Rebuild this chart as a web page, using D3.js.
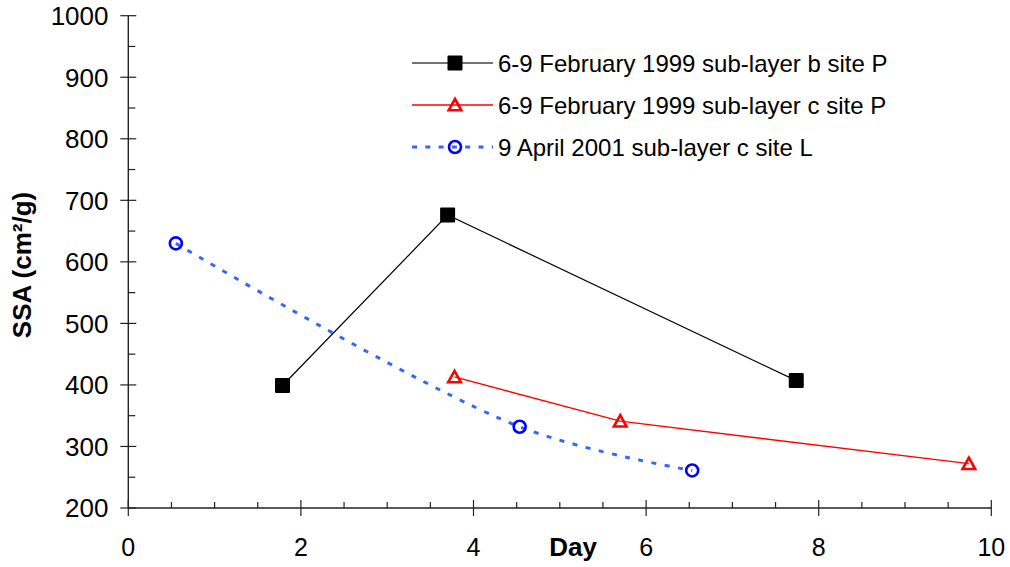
<!DOCTYPE html>
<html><head><meta charset="utf-8">
<script src="https://cdn.jsdelivr.net/npm/d3@7"></script>
<style>body{margin:0;background:#fff}svg{display:block}text{font-family:Arial,"Liberation Sans",sans-serif}</style>
</head><body>
<svg id="c" width="1010" height="567"></svg>
<script>
const seriesNames = ["6-9 February 1999 sub-layer b site P","6-9 February 1999 sub-layer c site P","9 April 2001 sub-layer c site L"];
const bDays = [1.787, 3.70, 7.74];
const bSSA  = [399, 676, 407];
const cDays = [3.78, 5.70, 9.74];
const cSSA  = [413, 341, 272];
const lDays = [0.551, 4.535, 6.534];
const lSSA  = [630, 332, 261];
const xTicks = [0,2,4,6,8,10];
const yTicks = [200,300,400,500,600,700,800,900,1000];
const xTitle = "Day";
const yTitle = "SSA (cm²/g)";

const svg = d3.select("#c");
const x = d3.scaleLinear().domain([0,10]).range([128.3, 991.3]);
const y = d3.scaleLinear().domain([200,1000]).range([508, 15.7]);
const axisCol = "#222";

// Y axis
const gy = svg.append("g");
gy.append("line").attr("x1",x(0)).attr("x2",x(0)).attr("y1",y(1000)).attr("y2",y(200)).attr("stroke",axisCol).attr("stroke-width",1.4);
d3.range(200,1001,50).forEach(v=>{
  const major = v%100===0;
  gy.append("line").attr("x1",x(0)-(major?8:0)).attr("x2",x(0)+(major?8:7))
    .attr("y1",y(v)).attr("y2",y(v)).attr("stroke",axisCol).attr("stroke-width",1.2);
});
gy.selectAll("text.yl").data(yTicks).join("text").attr("class","yl")
  .attr("x",108.5).attr("y",d=>y(d)).attr("dy","0.36em").attr("text-anchor","end")
  .attr("font-size",26).attr("fill","#000").text(d=>d);

// X axis
const gx = svg.append("g");
gx.append("line").attr("x1",x(0)).attr("x2",x(10)).attr("y1",y(200)).attr("y2",y(200)).attr("stroke",axisCol).attr("stroke-width",1.4);
d3.range(0,10.01,0.5).forEach(v=>{
  const major = Math.abs(v%2)<1e-9;
  gx.append("line").attr("x1",x(v)).attr("x2",x(v))
    .attr("y1",y(200)-(major?8:6)).attr("y2",y(200)+(major?8:0)).attr("stroke",axisCol).attr("stroke-width",1.2);
});
gx.selectAll("text.xl").data(xTicks).join("text").attr("class","xl")
  .attr("x",d=>x(d)).attr("y",556).attr("text-anchor","middle")
  .attr("font-size",25).attr("fill","#000").text(d=>d);

svg.append("text").attr("x",573).attr("y",556).attr("text-anchor","middle")
  .attr("font-size",26).attr("font-weight","bold").text(xTitle);
svg.append("text").attr("transform","translate(30.5,265) rotate(-90)").attr("text-anchor","middle")
  .attr("font-size",26).attr("font-weight","bold").text(yTitle);

// Series
const line = d3.line().x(d=>x(d[0])).y(d=>y(d[1]));
const smooth = d3.line().x(d=>x(d[0])).y(d=>y(d[1])).curve(d3.curveCatmullRom.alpha(0.5));
const bPts = bDays.map((d,i)=>[d,bSSA[i]]);
const cPts = cDays.map((d,i)=>[d,cSSA[i]]);
const lPts = lDays.map((d,i)=>[d,lSSA[i]]);

const blueLine = "#3366ff", blueMark = "#0000ff";

svg.append("path").attr("d",smooth(lPts)).attr("fill","none").attr("stroke",blueLine)
  .attr("stroke-width",3).attr("stroke-dasharray","5,8.5");
svg.append("path").attr("d",line(bPts)).attr("fill","none").attr("stroke","#000").attr("stroke-width",1.2);
svg.append("path").attr("d",line(cPts)).attr("fill","none").attr("stroke","#ff0000").attr("stroke-width",1.3);

function square(g,cx,cy){ g.append("rect").attr("x",cx-7.5).attr("y",cy-7.5).attr("width",15).attr("height",15).attr("rx",1).attr("fill","#000"); }
function tri(g,cx,cy){ g.append("path").attr("d",`M${cx},${cy-6} L${cx+6.3},${cy+5.3} L${cx-6.3},${cy+5.3} Z`).attr("fill","none").attr("stroke","#ff0000").attr("stroke-width",2.6).attr("stroke-linejoin","miter"); }
function circ(g,cx,cy){ g.append("circle").attr("cx",cx).attr("cy",cy).attr("r",6).attr("fill","none").attr("stroke",blueMark).attr("stroke-width",2.6); }

const mk = svg.append("g");
lPts.forEach(p=>circ(mk,x(p[0]),y(p[1])));
bPts.forEach(p=>square(mk,x(p[0]),y(p[1])));
cPts.forEach(p=>tri(mk,x(p[0]),y(p[1])));

// Legend
const lg = svg.append("g");
const legY = [63,105,147];
const styles = [
  {stroke:"#444", w:1.3, dash:null, m:square},
  {stroke:"#ff0000", w:1.3, dash:null, m:tri},
  {stroke:blueLine, w:3, dash:"5,8.3", m:circ}
];
seriesNames.forEach((n,i)=>{
  const s = styles[i];
  const l = lg.append("line").attr("x1",412).attr("x2",493).attr("y1",legY[i]).attr("y2",legY[i])
    .attr("stroke",s.stroke).attr("stroke-width",s.w);
  if(s.dash) l.attr("stroke-dasharray",s.dash);
  s.m(lg,455,legY[i]);
  lg.append("text").attr("x",498).attr("y",legY[i]+8.6).attr("font-size",24).attr("fill","#000").text(n);
});
</script>
</body></html>
